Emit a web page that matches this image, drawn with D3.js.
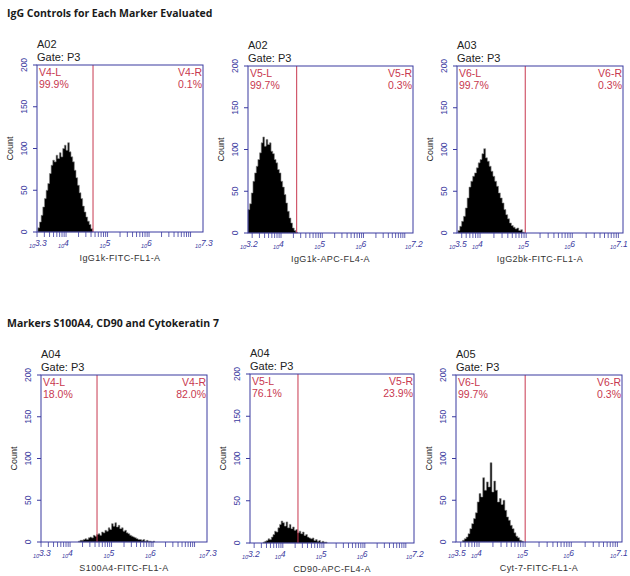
<!DOCTYPE html>
<html>
<head>
<meta charset="utf-8">
<script src="https://cdn.jsdelivr.net/npm/d3@7"></script>
<style>
  html, body { margin: 0; padding: 0; background: #fff; }
  svg { display: block; }
  .title { font-family: "Open Sans", sans-serif; font-weight: 700; font-size: 10.5px; fill: #1a1a1a; }
  .head { font-family: "Liberation Sans", Arial, sans-serif; font-size: 11px; fill: #222; }
  .region { font-family: "Liberation Sans", Arial, sans-serif; font-size: 10.5px; fill: #c8384f; }
  .ytick { font-family: "Liberation Sans", Arial, sans-serif; font-size: 8.5px; fill: #3a3aa0; }
  .xtick { font-family: "Liberation Sans", Arial, sans-serif; font-style: italic; fill: #3a3aa0; }
  .count { font-family: "Liberation Sans", Arial, sans-serif; font-size: 9px; fill: #222; }
  .xlab { font-family: "Liberation Sans", Arial, sans-serif; font-size: 9px; fill: #333; letter-spacing: 0.4px; }
</style>
</head>
<body>
<script>
// section headings
const sectionTitles = ["IgG Controls for Each Marker Evaluated", "Markers S100A4, CD90 and Cytokeratin 7"]

// one entry per panel, reading order
const wells      = ["A02", "A02", "A03", "A04", "A04", "A05"]
const gateNames  = ["V4", "V5", "V6", "V4", "V5", "V6"]
const leftPct    = ["99.9%", "99.7%", "99.7%", "18.0%", "76.1%", "99.7%"]
const rightPct   = ["0.1%", "0.3%", "0.3%", "82.0%", "23.9%", "0.3%"]
const axisMin    = [3.3, 3.2, 3.5, 3.3, 3.2, 3.5]     // log10 of axis start
const axisMax    = [7.3, 7.2, 7.1, 7.3, 7.2, 7.1]     // log10 of axis end
const gateAt     = [4.65, 4.38, 4.98, 4.65, 4.37, 5.0] // log10 of gate line
const xLabels    = ["IgG1k-FITC-FL1-A", "IgG1k-APC-FL4-A", "IgG2bk-FITC-FL1-A",
                    "S100A4-FITC-FL1-A", "CD90-APC-FL4-A", "Cyt-7-FITC-FL1-A"]
const yTicks     = [0, 50, 100, 150, 200]

// histograms: first bin (log10) and counts per 0.04 decade bin
const binWidth = 0.04
const binStart = [3.32, 3.20, 3.52, 4.20, 3.52, 3.64]

const igg1kFitc = [5, 12, 20, 30, 40, 50, 58, 70, 80, 86, 84, 92, 88, 95, 90, 100, 104,
  98, 107, 96, 90, 84, 74, 65, 56, 47, 40, 31, 24, 18, 13, 9, 4]
const igg1kApc = [28, 35, 48, 62, 72, 80, 88, 96, 108, 115, 104, 112, 106, 108, 98, 95,
  88, 84, 76, 72, 62, 55, 46, 36, 26, 18, 12, 6, 3, 1]
const igg2bkFitc = [3, 8, 14, 20, 30, 42, 55, 62, 68, 72, 78, 84, 88, 95, 101, 90, 86,
  80, 74, 68, 62, 56, 48, 42, 36, 28, 22, 17, 12, 9, 7, 5, 6, 3, 4, 1]
const s100a4Fitc = [1, 2, 2, 3, 4, 3, 5, 6, 5, 8, 7, 9, 10, 8, 12, 11, 14, 13, 17, 15,
  22, 19, 23, 18, 20, 16, 17, 13, 14, 11, 10, 8, 7, 6, 5, 4, 3, 3, 2, 3, 1, 2, 1, 1, 0, 1]
const cd90Apc = [1, 2, 3, 5, 4, 7, 10, 14, 13, 18, 22, 26, 24, 20, 25, 18, 22, 17, 19,
  15, 16, 12, 14, 11, 13, 9, 10, 7, 6, 5, 6, 3, 4, 2, 3, 1, 2, 1, 1]
const cyt7Fitc = [2, 4, 6, 10, 16, 22, 28, 35, 48, 58, 54, 77, 62, 72, 66, 95, 60, 73,
  62, 48, 52, 45, 50, 38, 30, 26, 20, 16, 11, 7, 5, 2, 1]

const counts = [igg1kFitc, igg1kApc, igg2bkFitc, s100a4Fitc, cd90Apc, cyt7Fitc]

// plot box of each panel in page pixels
const boxes = [
  {l: 37,  t: 65,  r: 203, b: 232},
  {l: 248, t: 66,  r: 413, b: 233},
  {l: 457, t: 66,  r: 623, b: 233},
  {l: 41,  t: 375, r: 207, b: 542},
  {l: 250, t: 374, r: 414, b: 543},
  {l: 456, t: 375, r: 622, b: 542}
]

const blue = "#3a3aa0"
const red  = "#c8384f"

let svg = d3.select("body").append("svg")
  .attr("width", 630)
  .attr("height", 576)

svg.append("text").attr("class", "title").attr("x", 7).attr("y", 17).text(sectionTitles[0])
svg.append("text").attr("class", "title").attr("x", 7).attr("y", 327).text(sectionTitles[1])

boxes.forEach(function(box, i){
  let x = d3.scaleLog()
    .domain([Math.pow(10, axisMin[i]), Math.pow(10, axisMax[i])])
    .range([box.l, box.r])
  let y = d3.scaleLinear().domain([0, 200]).range([box.b, box.t])

  let g = svg.append("g")

  // header text
  g.append("text").attr("class", "head").attr("x", box.l).attr("y", box.t - 17).text(wells[i])
  g.append("text").attr("class", "head").attr("x", box.l).attr("y", box.t - 4).text("Gate: P3")

  // histogram as a solid stepped area
  let bins = counts[i].map(function(c, k){
    return {x0: binStart[i] + k * binWidth, n: c}
  })
  bins.push({x0: binStart[i] + counts[i].length * binWidth, n: 0})

  let area = d3.area()
    .x(function(d){ return x(Math.pow(10, d.x0)) })
    .y0(y(0))
    .y1(function(d){ return y(d.n) })
    .curve(d3.curveStepAfter)

  g.append("path")
    .datum(bins)
    .attr("d", area)
    .attr("fill", "#000")
    .attr("stroke", "#8a8a8a")
    .attr("stroke-width", 0.6)

  // gate line
  g.append("line")
    .attr("x1", x(Math.pow(10, gateAt[i]))).attr("x2", x(Math.pow(10, gateAt[i])))
    .attr("y1", box.t).attr("y2", box.b)
    .attr("stroke", red).attr("stroke-width", 1)

  // plot frame
  g.append("rect")
    .attr("x", box.l).attr("y", box.t)
    .attr("width", box.r - box.l).attr("height", box.b - box.t)
    .attr("fill", "none").attr("stroke", blue).attr("stroke-width", 1)

  // region labels
  g.append("text").attr("class", "region").attr("x", box.l + 2).attr("y", box.t + 10.5).text(gateNames[i] + "-L")
  g.append("text").attr("class", "region").attr("x", box.l + 2).attr("y", box.t + 22.7).text(leftPct[i])
  g.append("text").attr("class", "region").attr("x", box.r - 1).attr("y", box.t + 10.5)
    .attr("text-anchor", "end").text(gateNames[i] + "-R")
  g.append("text").attr("class", "region").attr("x", box.r - 1).attr("y", box.t + 22.7)
    .attr("text-anchor", "end").text(rightPct[i])

  // y axis ticks and rotated labels
  g.selectAll("line.yt")
    .data(yTicks)
    .enter().append("line")
    .attr("x1", box.l - 4).attr("x2", box.l)
    .attr("y1", function(d){ return y(d) }).attr("y2", function(d){ return y(d) })
    .attr("stroke", blue).attr("stroke-width", 1)

  g.selectAll("text.ytick")
    .data(yTicks)
    .enter().append("text")
    .attr("class", "ytick")
    .attr("text-anchor", "middle")
    .attr("transform", function(d){ return "translate(" + (box.l - 10) + "," + y(d) + ") rotate(-90)" })
    .text(function(d){ return d })

  g.append("text").attr("class", "count")
    .attr("text-anchor", "middle")
    .attr("transform", "translate(" + (box.l - 24) + "," + ((box.t + box.b) / 2) + ") rotate(-90)")
    .text("Count")

  // x axis: minor ticks for every 1..9 x 10^k inside the domain
  let minor = []
  for (let k = Math.floor(axisMin[i]); k <= Math.ceil(axisMax[i]); k++) {
    for (let m = 1; m <= 9; m++) {
      let v = m * Math.pow(10, k)
      if (Math.log10(v) >= axisMin[i] && Math.log10(v) <= axisMax[i]) { minor.push(v) }
    }
  }
  g.selectAll("line.xt")
    .data(minor)
    .enter().append("line")
    .attr("x1", function(d){ return x(d) }).attr("x2", function(d){ return x(d) })
    .attr("y1", box.b).attr("y2", box.b + 5)
    .attr("stroke", blue).attr("stroke-width", 0.8)

  // x tick labels: axis ends plus whole decades in between
  let majors = [axisMin[i]]
  for (let k = Math.ceil(axisMin[i]); k <= axisMax[i] - 0.5; k++) { if (k > axisMin[i]) majors.push(k) }
  majors.push(axisMax[i])

  majors.forEach(function(d, j){
    let cx = x(Math.pow(10, d))
    let last = j == majors.length - 1
    // last label kept inside the page
    if (last) { cx = Math.min(cx, 618) }
    g.append("text").attr("class", "xtick")
      .attr("font-size", "5.5px")
      .attr("text-anchor", "end")
      .attr("x", cx - 2).attr("y", box.b + 16)
      .text("10")
    g.append("text").attr("class", "xtick")
      .attr("font-size", "8.5px")
      .attr("x", cx - 2).attr("y", box.b + 14)
      .text(d)
  })

  g.append("text").attr("class", "xlab")
    .attr("text-anchor", "middle")
    .attr("x", (box.l + box.r) / 2)
    .attr("y", box.b + 29)
    .text(xLabels[i])
})
</script>
</body>
</html>
